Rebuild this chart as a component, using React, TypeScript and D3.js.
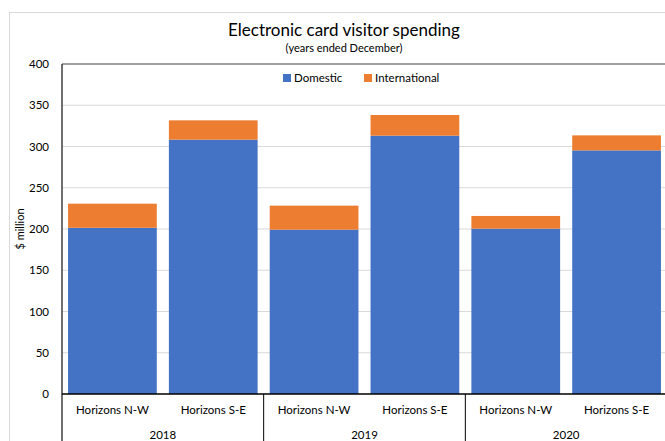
import React from "react";
import * as d3 from "d3";

const years = ["2018", "2019", "2020"];
const regions = ["Horizons N-W", "Horizons S-E"];
const categories = ["2018|Horizons N-W", "2018|Horizons S-E", "2019|Horizons N-W", "2019|Horizons S-E", "2020|Horizons N-W", "2020|Horizons S-E"];
const domestic = [201.5, 308.3, 199.2, 313.1, 200.4, 295.3];
const international = [29.2, 23.4, 29.1, 25.1, 15.4, 18.2];
const yTicks = [0, 50, 100, 150, 200, 250, 300, 350, 400];
const seriesNames = ["Domestic", "International"];
const colors = ["#4472C4", "#ED7D31"];

const FONT = "Lato, 'Open Sans', sans-serif";

export default function App() {
  const W = 665, H = 441;
  const left = 62, top = 64, bottom = 394, right = 667;
  const x = d3.scaleBand<string>().domain(categories).range([left, right]).paddingInner(0.12).paddingOuter(0.06);
  const y = d3.scaleLinear().domain([0, 400]).range([bottom, top]);
  const stack = d3.stack<any>().keys(["d", "i"])(categories.map((c, k) => ({ c, d: domestic[k], i: international[k] })));
  const step = x.step();
  const groupW = step * 2;
  return (
    <svg width={W} height={H} style={{ position: "absolute", left: 0, top: 0, background: "#fff" }} fontFamily={FONT}>
      <rect x={9.5} y={12.5} width={700} height={500} fill="#fff" stroke="#d9d9d9" />
      <text x={344} y={36} textAnchor="middle" fontSize={17} fill="#000">Electronic card visitor spending</text>
      <text x={344} y={52} textAnchor="middle" fontSize={11} fill="#000">(years ended December)</text>
      {yTicks.map((t) => (
        <g key={t}>
          {t > 0 && t < 400 && <line x1={left} x2={right} y1={y(t)} y2={y(t)} stroke="#d9d9d9" strokeWidth={1} />}
          <text x={49} y={y(t) + 4} textAnchor="end" fontSize={11.5} fill="#000">{t}</text>
        </g>
      ))}
      <line x1={left} x2={right} y1={top} y2={top} stroke="#7f7f7f" strokeWidth={1.5} />
      {stack.map((s, si) =>
        s.map((d, k) => (
          <rect key={si + "-" + k} x={x(categories[k])} width={x.bandwidth()} y={y(d[1])} height={y(d[0]) - y(d[1])} fill={colors[si]} />
        ))
      )}
      <line x1={left} x2={left} y1={top} y2={H} stroke="#404040" strokeWidth={1.5} />
      <line x1={left} x2={right} y1={bottom} y2={bottom} stroke="#000" strokeWidth={1.5} />
      {years.map((yr, gi) => (
        <g key={yr}>
          {gi > 0 && <line x1={left + gi * groupW} x2={left + gi * groupW} y1={bottom} y2={H} stroke="#000" strokeWidth={1} />}
          <text x={left + gi * groupW + groupW / 2} y={439} textAnchor="middle" fontSize={11.5} fill="#000">{yr}</text>
        </g>
      ))}
      {categories.map((c, k) => (
        <text key={c} x={(x(c) as number) + x.bandwidth() / 2} y={414} textAnchor="middle" fontSize={11.5} fill="#000">{regions[k % 2]}</text>
      ))}
      <text transform={`translate(24,${229}) rotate(-90)`} textAnchor="middle" fontSize={11} fill="#000">$ million</text>
      {seriesNames.map((n, i) => {
        const lx = i === 0 ? 283 : 364;
        return (
          <g key={n}>
            <rect x={lx} y={74} width={8} height={8} fill={colors[i]} />
            <text x={lx + 11} y={82} fontSize={11.5} fill="#000">{n}</text>
          </g>
        );
      })}
    </svg>
  );
}
